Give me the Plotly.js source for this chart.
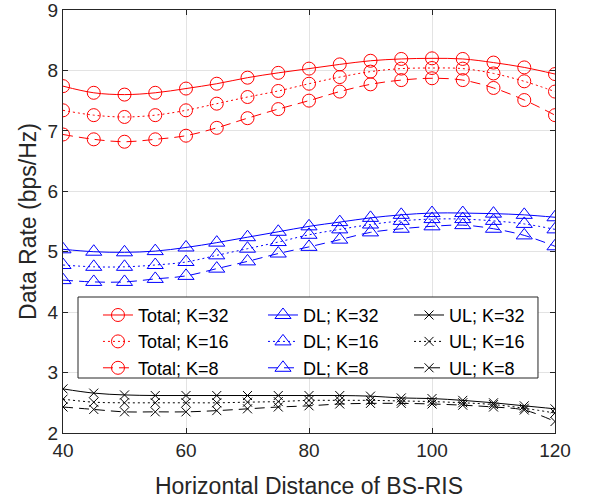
<!DOCTYPE html>
<html>
<head>
<meta charset="utf-8">
<script src="https://cdn.plot.ly/plotly-3.0.1.min.js"></script>
<style>html,body{margin:0;padding:0;background:#fff;}#chart{width:590px;height:499px;}</style>
</head>
<body>
<div id="chart"></div>
<script>
const distance = [40,45,50,55,60,65,70,75,80,85,90,95,100,105,110,115,120];
const total32 = [7.74,7.63,7.60,7.63,7.70,7.78,7.88,7.96,8.03,8.10,8.16,8.19,8.20,8.19,8.13,8.05,7.94];
const total16 = [7.34,7.26,7.23,7.26,7.34,7.45,7.56,7.66,7.78,7.89,7.98,8.03,8.04,8.03,7.95,7.82,7.65];
const total8  = [6.94,6.86,6.82,6.86,6.92,7.05,7.21,7.36,7.50,7.65,7.77,7.84,7.87,7.84,7.71,7.51,7.26];
const dl32 = [5.04,5.00,4.99,5.01,5.07,5.15,5.24,5.33,5.42,5.49,5.56,5.61,5.64,5.64,5.63,5.61,5.57];
const dl16 = [4.78,4.75,4.75,4.78,4.83,4.94,5.05,5.16,5.28,5.37,5.45,5.51,5.54,5.54,5.51,5.46,5.37];
const dl8  = [4.53,4.50,4.50,4.55,4.60,4.72,4.84,4.97,5.08,5.20,5.32,5.38,5.42,5.44,5.38,5.27,5.09];
const ul32 = [2.73,2.66,2.63,2.62,2.62,2.62,2.62,2.62,2.62,2.62,2.61,2.58,2.57,2.54,2.50,2.45,2.40];
const ul16 = [2.56,2.51,2.50,2.50,2.50,2.50,2.51,2.52,2.54,2.54,2.54,2.53,2.52,2.50,2.47,2.41,2.33];
const ul8  = [2.43,2.39,2.35,2.35,2.35,2.37,2.40,2.43,2.45,2.48,2.49,2.49,2.48,2.46,2.43,2.38,2.19];
const names = ['Total; K=32','DL; K=32','UL; K=32','Total; K=16','DL; K=16','UL; K=16','Total; K=8','DL; K=8','UL; K=8'];
const xLabel = 'Horizontal Distance of BS-RIS';
const yLabel = 'Data Rate (bps/Hz)';

const series = [total32, dl32, ul32, total16, dl16, ul16, total8, dl8, ul8];
const colors = ['#FF0000','#0000FF','#000000'];
const symbols = ['circle-open','triangle-up-open','x-thin-open'];
const sizes = [13, 14, 9];
const dashes = ['solid','2px,3px','10px,6px'];
const legendIds = ['legend','legend2','legend3'];

const traces = series.map((ys, i) => {
  const kind = i % 3, k = Math.floor(i / 3);
  return {
    x: distance, y: ys, name: names[i], type: 'scatter', mode: 'lines+markers',
    legend: legendIds[kind],
    line: {color: colors[kind], width: 1, dash: dashes[k], shape: 'spline', smoothing: 1},
    marker: {symbol: symbols[kind], size: sizes[kind], color: colors[kind], line: {color: colors[kind], width: 1}}
  };
});

const font = 'Liberation Sans, Arial, Helvetica, sans-serif';
const axisCommon = {
  showline: true, linecolor: '#262626', linewidth: 1, mirror: 'ticks',
  ticks: 'inside', ticklen: 5, tickcolor: '#262626', ticklabeloverflow: 'allow',
  showgrid: true, gridcolor: '#e3e3e3', gridwidth: 1, zeroline: false,
  tickfont: {family: font, size: 19, color: '#262626'}
};
const legendCommon = {
  orientation: 'v', y: 0.322, xanchor: 'left', yanchor: 'top',
  bgcolor: 'rgba(0,0,0,0)', borderwidth: 0, traceorder: 'normal',
  font: {family: font, size: 18, color: '#000000'}
};
const layout = {
  width: 590, height: 499,
  margin: {l: 63, r: 35, t: 10, b: 66},
  paper_bgcolor: '#ffffff', plot_bgcolor: '#ffffff',
  font: {family: font, color: '#262626'},
  showlegend: true,
  xaxis: Object.assign({}, axisCommon, {range: [40, 120], dtick: 20, tick0: 40,
    title: {text: xLabel, font: {family: font, size: 23, color: '#262626'}, standoff: 20}}),
  yaxis: Object.assign({}, axisCommon, {range: [2, 9.00001], dtick: 1, tick0: 2,
    title: {text: yLabel, font: {family: font, size: 23, color: '#262626'}, standoff: 4}}),
  legend: Object.assign({}, legendCommon, {x: 0.0711}),
  legend2: Object.assign({}, legendCommon, {x: 0.4065}),
  legend3: Object.assign({}, legendCommon, {x: 0.7033}),
  shapes: [{
    type: 'rect', xref: 'paper', yref: 'paper', layer: 'above',
    x0: 0.0305, x1: 0.9654, y0: 0.130, y1: 0.3215,
    line: {color: '#262626', width: 1}, fillcolor: '#ffffff'
  }]
};
Plotly.newPlot('chart', traces, layout, {displayModeBar: false, staticPlot: true});
</script>
</body>
</html>
